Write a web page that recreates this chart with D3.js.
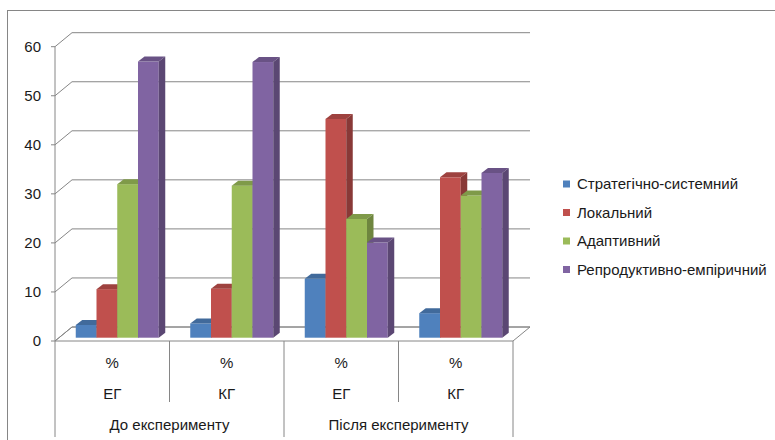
<!DOCTYPE html>
<html>
<head>
<meta charset="utf-8">
<script src="https://cdn.jsdelivr.net/npm/d3@7/dist/d3.min.js"></script>
<style>
  html, body { margin: 0; padding: 0; background: #fff; }
  svg { display: block; }
  text { font-family: "Liberation Sans", Arial, sans-serif; fill: #1a1a1a; }
</style>
</head>
<body>
<svg id="chart" width="775" height="440"></svg>
<script>
// Categories: lower level (sample + unit) and upper level (stage)
const units = ["%", "%", "%", "%"];
const samples = ["ЕГ", "КГ", "ЕГ", "КГ"];
const stages = ["До експерименту", "Після експерименту"];

// Series (levels), values in %
const seriesNames = ["Стратегічно-системний", "Локальний", "Адаптивний", "Репродуктивно-емпіричний"];
const strategic = [2.6, 2.9, 12.0, 5.0];
const local = [9.9, 10.0, 44.6, 32.7];
const adaptive = [31.3, 31.0, 24.2, 29.0];
const reproductive = [56.3, 56.2, 19.4, 33.6];
const seriesValues = [strategic, local, adaptive, reproductive];

const yTicks = [0, 10, 20, 30, 40, 50, 60];
const colors = ["#4f81bd", "#c0504d", "#9bbb59", "#8064a2"];

const svg = d3.select("#chart");
const fontSize = 15;

// outer chart frame
svg.append("rect")
  .attr("x", 7.5).attr("y", 10.5)
  .attr("width", 800).attr("height", 500)
  .attr("fill", "none").attr("stroke", "#868686").attr("stroke-width", 1);

// plot geometry (front plane) and oblique depth offsets
const x0 = 55, x1 = 513;
const wallDx = 17, wallDy = -14;        // back wall offset
const barDx = 5, barDy = -3.3;          // bar front face offset
const barDepthX = 6.5, barDepthY = -5;  // bar thickness in depth

const idx = d3.range(samples.length);
const x = d3.scaleBand().domain(idx).range([x0, x1]).paddingInner(0).paddingOuter(0);
const y = d3.scaleLinear().domain([0, 60]).range([341, 46.7]);
const groupW = 83;
const xs = d3.scaleBand().domain(d3.range(seriesNames.length)).range([0, groupW]);

const grid = "#868686";

// floor
const floor = svg.append("g");
floor.append("path")
  .attr("d", `M${x0},${y(0)} L${x1},${y(0)} L${x1 + wallDx},${y(0) + wallDy} L${x0 + wallDx},${y(0) + wallDy} Z`)
  .attr("fill", "none").attr("stroke", grid).attr("stroke-width", 1);

// gridlines on back and side walls
const gridG = svg.append("g");
yTicks.forEach(t => {
  const yy = y(t);
  gridG.append("path")
    .attr("d", `M${x0 - 4},${yy} L${x0},${yy} L${x0 + wallDx},${yy + wallDy} L${x1 + wallDx},${yy + wallDy}`)
    .attr("fill", "none").attr("stroke", grid).attr("stroke-width", 1);
});

// value axis line
svg.append("line")
  .attr("x1", x0).attr("x2", x0).attr("y1", y(60)).attr("y2", y(0))
  .attr("stroke", grid).attr("stroke-width", 1);

// value axis labels
svg.append("g").selectAll("text").data(yTicks).join("text")
  .attr("x", 41).attr("y", d => y(d))
  .attr("dy", "0.35em")
  .attr("text-anchor", "end")
  .attr("font-size", fontSize)
  .text(d => d);

// bars: front, top and side faces
const bars = svg.append("g");
idx.forEach(i => {
  seriesValues.forEach((vals, s) => {
    const v = vals[i];
    const left = x(i) + (x.bandwidth() - groupW) / 2 + xs(s) + barDx;
    const w = xs.bandwidth();
    const top = y(v) + barDy;
    const bottom = y(0) + barDy;
    const c = d3.color(colors[s]);
    const g = bars.append("g");
    g.append("rect")
      .attr("x", left).attr("y", top).attr("width", w).attr("height", bottom - top)
      .attr("fill", colors[s]);
    g.append("path")
      .attr("d", `M${left},${top} L${left + barDepthX},${top + barDepthY} L${left + w + barDepthX},${top + barDepthY} L${left + w},${top} Z`)
      .attr("fill", c.darker(0.55));
    g.append("path")
      .attr("d", `M${left + w},${top} L${left + w + barDepthX},${top + barDepthY} L${left + w + barDepthX},${bottom + barDepthY} L${left + w},${bottom} Z`)
      .attr("fill", c.darker(0.95));
  });
});

// category axis: dividers and labels
const cat = svg.append("g");
const yAxis0 = y(0);
d3.range(samples.length + 1).forEach(k => {
  const xx = k < samples.length ? x(k) : x1;
  const long = k % 2 === 0;
  cat.append("line")
    .attr("x1", xx).attr("x2", xx)
    .attr("y1", yAxis0).attr("y2", long ? 437 : 402)
    .attr("stroke", grid).attr("stroke-width", 1);
});
cat.selectAll("text.unit").data(units).join("text").attr("class", "unit")
  .attr("x", (d, i) => x(i) + x.bandwidth() / 2).attr("y", 363).attr("dy", "0.35em")
  .attr("text-anchor", "middle").attr("font-size", fontSize).text(d => d);
cat.selectAll("text.sample").data(samples).join("text").attr("class", "sample")
  .attr("x", (d, i) => x(i) + x.bandwidth() / 2).attr("y", 394).attr("dy", "0.35em")
  .attr("text-anchor", "middle").attr("font-size", fontSize).text(d => d);
cat.selectAll("text.stage").data(stages).join("text").attr("class", "stage")
  .attr("x", (d, i) => x(i * 2) + x.bandwidth()).attr("y", 425).attr("dy", "0.35em")
  .attr("text-anchor", "middle").attr("font-size", fontSize).text(d => d);

// legend
const legend = svg.append("g");
const ly = d3.scaleLinear().domain([0, 3]).range([184, 269.5]);
seriesNames.forEach((name, s) => {
  legend.append("rect")
    .attr("x", 563).attr("y", ly(s) - 3.5).attr("width", 7).attr("height", 7)
    .attr("fill", colors[s]);
  legend.append("text")
    .attr("x", 577).attr("y", ly(s)).attr("dy", "0.35em")
    .attr("font-size", fontSize).text(name);
});
</script>
</body>
</html>
